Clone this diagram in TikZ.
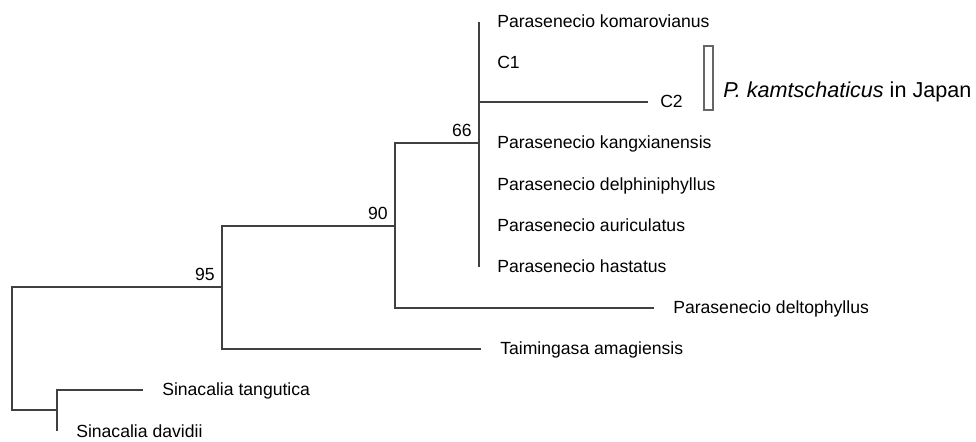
\documentclass[tikz,border=0pt]{standalone}
\usepackage{fontspec}
\setmainfont{Liberation Sans}
\usetikzlibrary{calc}

\begin{document}
\begin{tikzpicture}[x=0.75pt,y=-0.75pt,
    branch/.style={black!75,line width=0.8pt},
    taxon/.style={anchor=base west,inner sep=0pt,yshift=-4.5pt,font=\fontsize{13.2}{15}\selectfont},
    support/.style={anchor=base east,inner sep=0pt,font=\fontsize{13.2}{15}\selectfont}]
    \useasboundingbox (0,0) rectangle (976,442);

    % inner nodes
    \coordinate (root) at (12,348);
    \coordinate (n95) at (222,287);
    \coordinate (n90) at (395,226);
    \coordinate (n66) at (479,143);
    \coordinate (nS) at (57,410);

    % Parasenecio clade, tips on the node
    \foreach \tip/\y/\txt in {kom/22/Parasenecio komarovianus,c1/63/C1,kang/143/Parasenecio kangxianensis,delph/185/Parasenecio delphiniphyllus,auric/226/Parasenecio auriculatus,hast/267/Parasenecio hastatus} {
        \coordinate (\tip) at (479,\y);
        \node[taxon] (\tip-lab) at (497,\y) {\txt};
        \draw[branch] (n66) |- (\tip);
    }

    % long branches
    \foreach \tip/\x/\y/\gap/\anc/\txt in {c2/648/102/12/n66/C2,delto/654/308/19/n90/Parasenecio deltophyllus,taim/481/349/19/n95/Taimingasa amagiensis,tang/143/390/19/nS/Sinacalia tangutica,dav/57/431/19/nS/Sinacalia davidii} {
        \coordinate (\tip) at (\x,\y);
        \node[taxon] (\tip-lab) at (\x+\gap,\y) {\txt};
        \draw[branch] (\anc) |- (\tip);
    }

    % backbone
    \draw[branch] (n90) |- (n66);
    \draw[branch] (n95) |- (n90);
    \draw[branch] (root) |- (n95);
    \draw[branch] (root) |- (nS);

    % bootstrap values
    \foreach \nd/\val in {n95/95,n90/90,n66/66}
        \node[support] (\nd-bs) at ($(\nd)+(-7,-6)$) {\val};

    % Japanese group
    \node[draw=black!60,line width=1.8pt,inner sep=0pt,minimum width=6.75pt,minimum height=48pt] (jpbox) at (708.5,78) {};
    \node[anchor=base west,inner sep=0pt,font=\fontsize{16.2}{18}\selectfont] (jp) at (723,98) {\textit{P. kamtschaticus} in Japan};
\end{tikzpicture}
\end{document}
